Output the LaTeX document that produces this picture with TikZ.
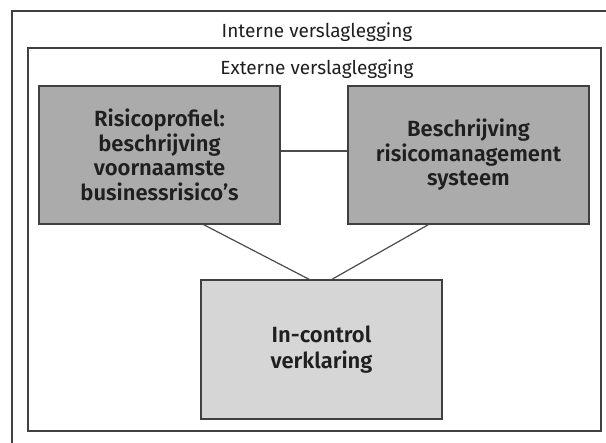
\documentclass[tikz,border=0pt]{standalone}
\usepackage{fontspec}
\setmainfont{Fira Sans}[BoldFont={Fira Sans SemiBold}]
\begin{document}
\begin{tikzpicture}[x=1pt,y=-1pt,
  frame/.style={draw=black!75,line width=1.4pt},
  title/.style={anchor=base,font=\fontsize{19}{22}\selectfont,text=black!88},
  darkbox/.style={frame,fill=black!33,text=black!88,align=center,
    font=\fontsize{22}{24.5}\selectfont\bfseries,inner sep=0pt},
  lightbox/.style={frame,fill=black!16,text=black!88,align=center,
    font=\fontsize{22}{26}\selectfont\bfseries,inner sep=0pt},
  link/.style={draw=black!70,line width=1.2pt}]
\useasboundingbox (0,0) rectangle (606,443);
\begin{scope}
\clip (0,0) rectangle (606,443);
\path[frame] (12,11) rectangle (630,460);
\end{scope}
\path[frame,fill=white] (28,48) rectangle (601,431);
\node[title] (tint) at (317,37.5) {Interne verslaglegging};
\node[title] (text) at (317,74.5) {Externe verslaglegging};
\node[darkbox,minimum width=241pt,minimum height=138pt] (lb) at (159.5,155)
  {Risicoprofiel:\\beschrijving\\voornaamste\\businessrisico’s};
\node[darkbox,minimum width=241pt,minimum height=138pt] (rb) at (468.5,155)
  {Beschrijving\\risicomanagement\\systeem};
\node[lightbox,minimum width=241pt,minimum height=139pt] (bb) at (321.5,349.5)
  {In-control\\verklaring};
\draw[link] ([yshift=4pt]lb.east) -- ([yshift=4pt]rb.west);
\draw[link] ([xshift=-77pt]lb.south east) -- ([xshift=-12.5pt]bb.north);
\draw[link] ([xshift=81pt]rb.south west) -- ([xshift=10.5pt]bb.north);
\end{tikzpicture}
\end{document}
